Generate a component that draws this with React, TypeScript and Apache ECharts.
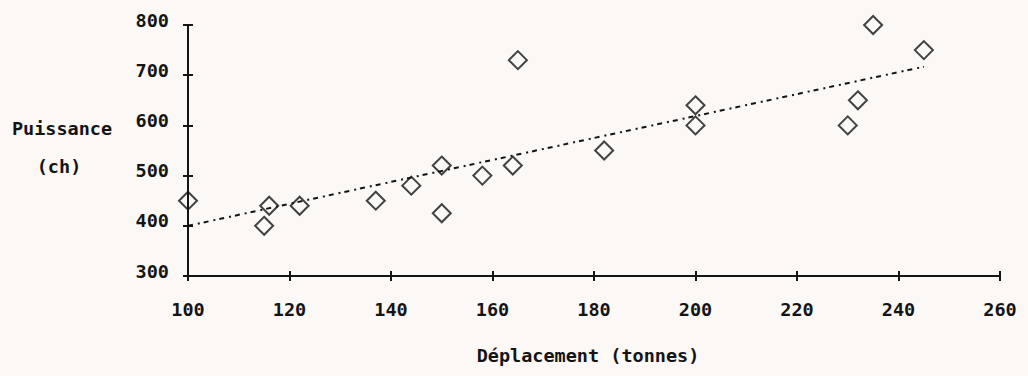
import React, { useEffect, useRef } from "react";
import * as echarts from "echarts";

const deplacement = [100, 115, 116, 122, 137, 144, 150, 150, 158, 164, 165, 182, 200, 200, 230, 232, 235, 245];
const puissance = [450, 400, 440, 440, 450, 480, 520, 425, 500, 520, 730, 550, 640, 600, 600, 650, 800, 750];
const trendX = [100, 245];
const trendY = [400, 717];
const xTitle = "Déplacement (tonnes)";
const yTitle1 = "Puissance";
const yTitle2 = "(ch)";

const INK = "#141414";
const FONT = "DejaVu Sans Mono";

export default function App() {
  const ref = useRef<HTMLDivElement>(null);
  useEffect(() => {
    document.body.style.margin = "0";
    const chart = echarts.init(ref.current!, null, { renderer: "svg" });
    const axisCommon = {
      type: "value" as const,
      splitLine: { show: false },
      axisLine: { show: true, lineStyle: { color: INK, width: 2 } },
    };
    chart.setOption({
      animation: false,
      backgroundColor: "#fbf8f6",
      grid: { left: 188, right: 28, top: 25, bottom: 100 },
      xAxis: [
        {
          ...axisCommon,
          min: 100,
          max: 260,
          interval: 20,
          axisTick: { show: true, length: 5, lineStyle: { color: INK, width: 2 } },
          axisLabel: { margin: 24, color: INK, fontFamily: FONT, fontWeight: "bold", fontSize: 18.5 },
        },
        {
          ...axisCommon,
          min: 100,
          max: 260,
          interval: 20,
          position: "bottom",
          axisLine: { show: false },
          axisTick: { show: true, inside: true, length: 5, lineStyle: { color: INK, width: 2 } },
          axisLabel: { show: false },
        },
      ],
      yAxis: [
        {
          ...axisCommon,
          min: 300,
          max: 800,
          interval: 100,
          axisTick: { show: true, length: 5, lineStyle: { color: INK, width: 2 } },
          axisLabel: {
            margin: 19,
            color: INK,
            fontFamily: FONT,
            fontWeight: "bold",
            fontSize: 18.5,
            verticalAlign: "bottom",
            lineHeight: 10,
          },
        },
        {
          ...axisCommon,
          min: 300,
          max: 800,
          interval: 100,
          position: "left",
          axisLine: { show: false },
          axisTick: { show: true, inside: true, length: 5, lineStyle: { color: INK, width: 2 } },
          axisLabel: { show: false },
        },
      ],
      graphic: [
        {
          type: "text",
          x: 62,
          y: 128,
          style: { text: yTitle1, fill: INK, font: `bold 18.5px "${FONT}"`, textAlign: "center", textVerticalAlign: "middle" },
        },
        {
          type: "text",
          x: 59,
          y: 166,
          style: { text: yTitle2, fill: INK, font: `bold 18.5px "${FONT}"`, textAlign: "center", textVerticalAlign: "middle" },
        },
        {
          type: "text",
          x: 588,
          y: 355,
          style: { text: xTitle, fill: INK, font: `bold 18.5px "${FONT}"`, textAlign: "center", textVerticalAlign: "middle" },
        },
      ],
      series: [
        {
          type: "line",
          data: trendX.map((x, i) => [x, trendY[i]]),
          showSymbol: false,
          symbol: "none",
          lineStyle: { color: INK, width: 2, type: [5, 5, 2, 4] },
          z: 1,
        },
        {
          type: "scatter",
          data: deplacement.map((x, i) => [x, puissance[i]]),
          symbol: "diamond",
          symbolSize: [18, 18],
          itemStyle: { color: "rgba(0,0,0,0)", borderColor: INK, borderWidth: 2 },
          z: 2,
        },
      ],
    });
    return () => chart.dispose();
  }, []);
  return <div ref={ref} style={{ width: 1028, height: 376 }} />;
}
